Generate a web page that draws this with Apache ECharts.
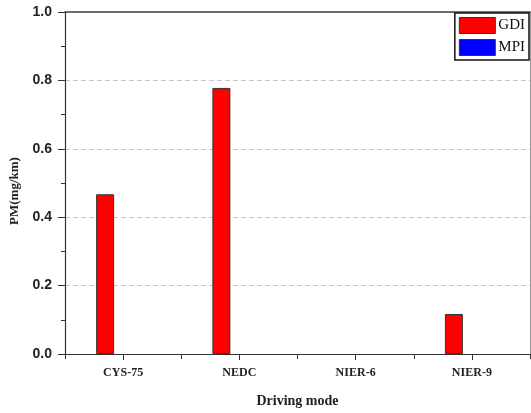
<!DOCTYPE html>
<html>
<head>
<meta charset="utf-8">
<script src="https://cdn.jsdelivr.net/npm/echarts@6/dist/echarts.min.js"></script>
<style>
	html, body { margin: 0; padding: 0; background: #fff; }
	#main { width: 531px; height: 413px; }
</style>
</head>
<body>
<div id="main"></div>
<script>
// driving cycles on the x axis
var modes = ['CYS-75', 'NEDC', 'NIER-6', 'NIER-9'];
// PM emission per mode (mg/km)
var gdiValues = [0.467, 0.778, 0, 0.117];
var mpiValues = [0, 0, 0, 0];
var yTicks = [0, 0.2, 0.4, 0.6, 0.8, 1.0];

var SERIF = '"Liberation Serif", "DejaVu Serif", serif';
var SANS = '"Liberation Sans", Arial, sans-serif';

// zero bars get no outline so nothing shows, like the original
function barData(values) {
	var out = [];
	for (var i = 0; i < values.length; i++) {
		out.push({
			value : values[i],
			itemStyle : { borderWidth : values[i] === 0 ? 0 : 1 }
		});
	}
	return out;
}

var myChart = echarts.init(document.getElementById('main'));
var option = {
	animation : false,
	backgroundColor : '#fff',
	grid : {
		left : 65,
		right : 1,
		top : 12,
		bottom : 59,
		containLabel : false,
		outerBoundsMode : 'none'
	},
	legend : {
		right : 2,
		top : 13,
		orient : 'vertical',
		icon : 'rect',
		itemWidth : 36,
		itemHeight : 16,
		itemGap : 5,
		padding : [4, 4, 4, 4],
		borderColor : '#111',
		borderWidth : 1.5,
		backgroundColor : '#fff',
		itemStyle : { borderColor : '#333', borderWidth : 1 },
		textStyle : {
			fontFamily : SERIF,
			fontSize : 15,
			color : '#111',
			padding : [0, 0, 0, -2]
		},
		data : ['GDI', 'MPI']
	},
	xAxis : [ {
		// boundary ticks, carries the bars
		type : 'category',
		data : modes,
		position : 'bottom',
		axisLine : { lineStyle : { color : '#333', width : 1.2 } },
		axisTick : { show : true, inside : false, length : 5, lineStyle : { color : '#333' } },
		axisLabel : { show : false },
		splitLine : { show : false }
	}, {
		// centre ticks and labels
		type : 'category',
		data : modes,
		position : 'bottom',
		name : 'Driving mode',
		nameLocation : 'middle',
		nameGap : 40,
		nameTextStyle : {
			fontFamily : SERIF,
			fontWeight : 'bold',
			fontSize : 14,
			color : '#222'
		},
		axisLine : { show : false },
		axisTick : { show : true, alignWithLabel : true, length : 6, lineStyle : { color : '#333' } },
		axisLabel : {
			margin : 13,
			fontFamily : SERIF,
			fontWeight : 'bold',
			fontSize : 12,
			color : '#222'
		}
	}, {
		// top frame line
		type : 'category',
		data : modes,
		position : 'top',
		axisLine : { lineStyle : { color : '#444', width : 1.5 } },
		axisTick : { show : false },
		axisLabel : { show : false }
	} ],
	yAxis : [ {
		type : 'value',
		min : yTicks[0],
		max : yTicks[yTicks.length - 1],
		interval : 0.2,
		name : 'PM(mg/km)',
		nameLocation : 'middle',
		nameGap : 43,
		nameTextStyle : {
			fontFamily : SERIF,
			fontWeight : 'bold',
			fontSize : 13,
			color : '#222',
			padding : [0, 0, 0, -16]
		},
		axisLine : { show : true, lineStyle : { color : '#333', width : 1.2 } },
		axisTick : { show : true, inside : false, length : 7, lineStyle : { color : '#333' } },
		minorTick : { show : true, splitNumber : 2, length : 4, lineStyle : { color : '#333' } },
		axisLabel : {
			margin : 13,
			fontFamily : SANS,
			fontWeight : 'bold',
			fontSize : 14,
			color : '#222',
			formatter : function(v) { return v.toFixed(1); }
		},
		splitLine : {
			show : true,
			lineStyle : { color : '#c8c8c8', type : [5, 3], width : 1 }
		}
	}, {
		// right frame line
		type : 'value',
		min : 0,
		max : 1,
		position : 'right',
		axisLine : { show : true, lineStyle : { color : '#999', width : 1 } },
		axisTick : { show : false },
		axisLabel : { show : false },
		splitLine : { show : false }
	} ],
	series : [ {
		name : 'GDI',
		type : 'bar',
		xAxisIndex : 0,
		yAxisIndex : 0,
		data : barData(gdiValues),
		barWidth : 18,
		barGap : '100%',
		itemStyle : { color : '#ff0000', borderColor : '#333', borderWidth : 1 }
	}, {
		name : 'MPI',
		type : 'bar',
		xAxisIndex : 0,
		yAxisIndex : 0,
		data : barData(mpiValues),
		barWidth : 18,
		barGap : '100%',
		itemStyle : { color : '#0000ff', borderColor : '#333', borderWidth : 1 }
	} ]
};
myChart.setOption(option);
</script>
</body>
</html>
